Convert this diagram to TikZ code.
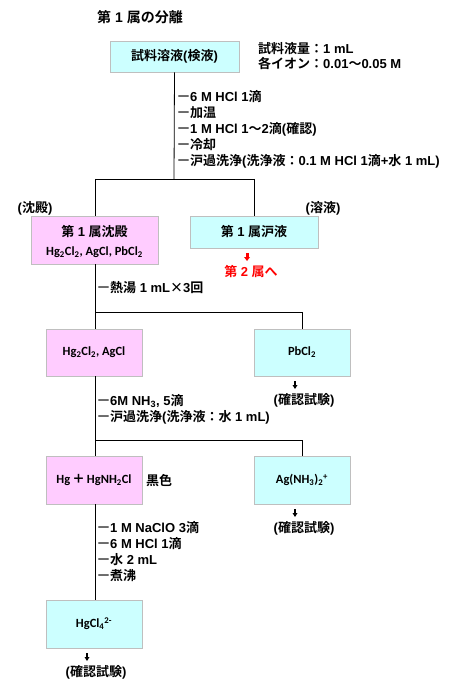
\documentclass[tikz,border=0pt]{standalone}
\usepackage{fontspec}
\setmainfont{Noto Sans CJK JP}[BoldFont={Noto Sans CJK JP Bold}]
\newfontfamily\formfont{Carlito}
\newfontfamily\latf{Liberation Sans}
\newcommand{\la}[1]{{\latf\bfseries #1}}
\newcommand{\pre}{{\mdseries ー}}
\definecolor{cyanfill}{HTML}{CCFFFF}
\definecolor{pinkfill}{HTML}{FFCCFF}
\definecolor{boxline}{HTML}{BFBFBF}
\begin{document}
\begin{tikzpicture}[x=1pt,y=-1pt,
  jp/.style={font=\fontsize{13}{15}\selectfont\bfseries, inner sep=0pt},
  fm/.style={font=\fontsize{12.5}{14}\selectfont\formfont\bfseries, inner sep=0pt},
  cbox/.style={draw=boxline, line width=0.9pt, fill=cyanfill, rectangle, inner sep=0pt},
  pbox/.style={draw=boxline, line width=0.9pt, fill=pinkfill, rectangle, inner sep=0pt},
  conn/.style={line width=0.8pt, black},
  lbl/.style={jp, anchor=west},
]
\useasboundingbox (0,0) rectangle (452,684);
% title
\node[jp, anchor=west, font=\fontsize{14}{16}\selectfont\bfseries] (title) at (97,17) {第\la{ 1 }属の分離};
% top box
\node[cbox, minimum width=129, minimum height=31] (sample) at (174.5,56.5) {};
\node[jp] (sampletxt) at (sample.center) {試料溶液\la{(}検液\la{)}};
\node[lbl] (vol) at (258,49) {試料液量：\la{1 mL}};
\node[lbl] (conc) at (258,64) {各イオン：\la{0.01}～\la{0.05 M}};
% first split
\coordinate (s1) at (174,179);
\coordinate (s1l) at (95,179);
\coordinate (s1r) at (254,179);
\draw[conn] (sample.south) -- (s1);
\draw[conn] (s1l) -- (s1r);
\node[lbl] (a1) at (177,97) {\pre\la{6 M HCl 1}滴};
\node[lbl] (a2) at (177,113) {\pre 加温};
\node[lbl] (a3) at (177,129) {\pre\la{1 M HCl 1}～\la{2}滴\la{(}確認\la{)}};
\node[lbl] (a4) at (177,145) {\pre 冷却};
\node[lbl] (a5) at (177,161) {\pre 沪過洗浄\la{(}洗浄液：\la{0.1 M HCl 1}滴\la{+}水\la{ 1 mL)}};
% second row
\node[pbox, minimum width=127, minimum height=48] (ppt1) at (94.5,240) {};
\node[jp] (ppt1a) at (94.5,232) {第\la{ 1 }属沈殿};
\node[fm] (ppt1b) at (94.5,252) {Hg\textsubscript{2}Cl\textsubscript{2}, AgCl, PbCl\textsubscript{2}};
\node[cbox, minimum width=128, minimum height=32] (filt1) at (254,232) {};
\node[jp] (filt1t) at (filt1.center) {第\la{ 1 }属沪液};
\draw[conn] (s1l) -- (ppt1.north -| s1l);
\draw[conn] (s1r) -- (filt1.north);
\node[jp] (lbppt) at (35,208) {\la{(}沈殿\la{)}};
\node[jp] (lbsol) at (323,208) {\la{(}溶液\la{)}};
\fill[red] (245.5,253) rectangle (248.5,257);
\fill[red] (244,257) -- (250,257) -- (247,261) -- cycle;
\node[jp, text=red] (to2) at (251,272) {第\la{ 2 }属へ};
% third row
\coordinate (s2) at (95,312);
\coordinate (s2r) at (302,312);
\draw[conn] (ppt1.south -| s2) -- (s2);
\draw[conn] (s2) -- (s2r);
\node[lbl] (b1) at (97,288) {\pre 熱湯\la{ 1 mL}×\la{3}回};
\node[pbox, minimum width=96, minimum height=47] (hgag) at (94,352.5) {};
\node[fm] (hgagt) at (hgag.center) {Hg\textsubscript{2}Cl\textsubscript{2}, AgCl};
\node[cbox, minimum width=96, minimum height=47] (pb) at (302,352.5) {};
\node[fm] (pbt) at (pb.center) {PbCl\textsubscript{2}};
\draw[conn] (s2r) -- (pb.north);
\draw[conn] (s2) -- (hgag.north -| s2);
\fill[black] (294,381) rectangle (296,385);
\fill[black] (292.5,385) -- (297.5,385) -- (295,389) -- cycle;
\node[jp] (pbtest) at (304,400) {\la{(}確認試験\la{)}};
% fourth row
\coordinate (s3) at (95,440);
\coordinate (s3r) at (302,440);
\draw[conn] (hgag.south -| s3) -- (s3);
\draw[conn] (s3) -- (s3r);
\node[lbl] (c1) at (97,401) {\pre\la{6M NH\textsubscript{3}, 5}滴};
\node[lbl] (c2) at (97,417) {\pre 沪過洗浄\la{(}洗浄液：水\la{ 1 mL)}};
\node[pbox, minimum width=96, minimum height=48] (hgnh) at (94,480) {};
\node[fm] (hgnht) at (hgnh.center) {Hg\,{\fontspec{Noto Sans CJK JP}＋}\,HgNH\textsubscript{2}Cl};
\node[lbl] (black) at (146,481) {黒色};
\node[cbox, minimum width=96, minimum height=48] (agnh) at (302,480) {};
\node[fm] (agnht) at (agnh.center) {Ag(NH\textsubscript{3})\textsubscript{2}\textsuperscript{+}};
\draw[conn] (s3r) -- (agnh.north);
\draw[conn] (s3) -- (hgnh.north -| s3);
\fill[black] (294,509) rectangle (296,513);
\fill[black] (292.5,513) -- (297.5,513) -- (295,517) -- cycle;
\node[jp] (agtest) at (304,528) {\la{(}確認試験\la{)}};
% fifth row
\node[cbox, minimum width=96, minimum height=48] (hgcl) at (94,624) {};
\node[fm] (hgclt) at (hgcl.center) {HgCl\textsubscript{4}\textsuperscript{2-}};
\draw[conn] (hgnh.south -| s3) -- (hgcl.north -| s3);
\node[lbl] (d1) at (97,528) {\pre\la{1 M NaClO 3}滴};
\node[lbl] (d2) at (97,544) {\pre\la{6 M HCl 1}滴};
\node[lbl] (d3) at (97,560) {\pre 水\la{ 2 mL}};
\node[lbl] (d4) at (97,576) {\pre 煮沸};
\fill[black] (86,653) rectangle (88,657);
\fill[black] (84.5,657) -- (89.5,657) -- (87,661) -- cycle;
\node[jp] (hgtest) at (96,672) {\la{(}確認試験\la{)}};
\end{tikzpicture}
\end{document}
